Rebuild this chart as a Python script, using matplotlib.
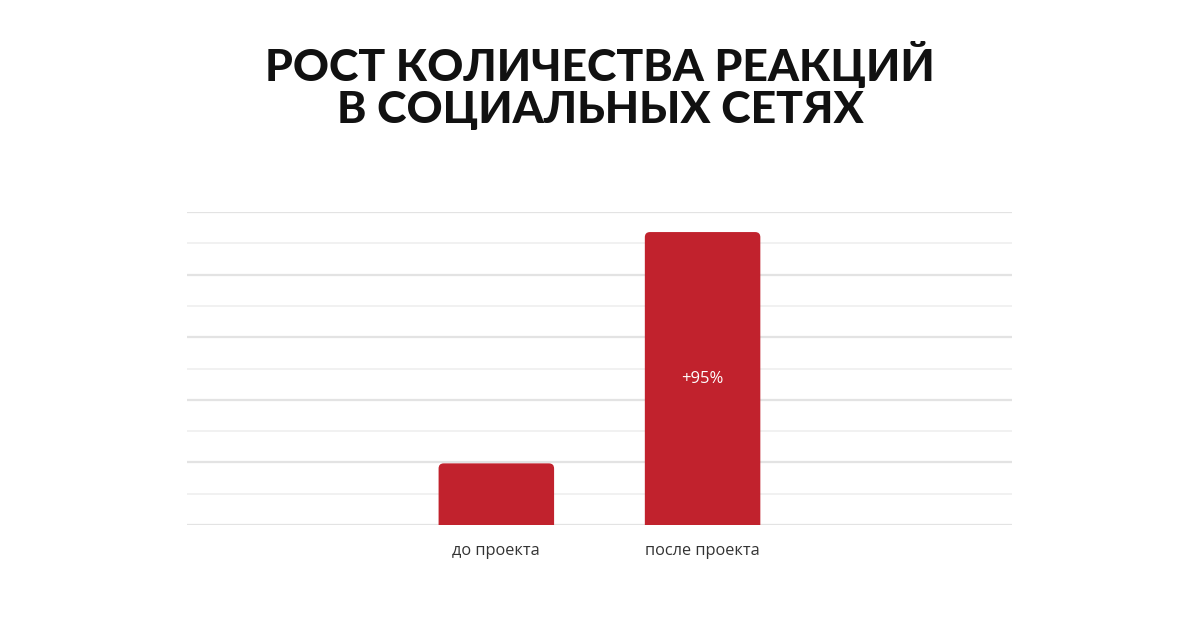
import matplotlib
matplotlib.use("Agg")
import matplotlib.pyplot as plt
from matplotlib.patches import FancyBboxPatch

# Data
categories = ["", "до проекта", "после проекта", ""]
values = [0, 19.7, 93.6, 0]
bar_labels = ["", "", "+95%", ""]
title_lines = ["РОСТ КОЛИЧЕСТВА РЕАКЦИЙ", "В СОЦИАЛЬНЫХ СЕТЯХ"]

BAR_COLOR = "#c1222d"

fig = plt.figure(figsize=(12, 6.26), dpi=100)
fig.patch.set_facecolor("white")
ax = fig.add_axes([0.1558, 0.1613, 0.6875, 0.5])

x = list(range(len(categories)))
bars = ax.bar(x, values, width=0.56, color=BAR_COLOR, zorder=3)

ax.set_xlim(-0.5, len(categories) - 0.5)
ax.set_ylim(0, 100)

# Replace plain bars with top-rounded ones
ax_w_px = 0.6875 * 1200
ax_h_px = 0.5 * 626
data_w = len(categories)
aspect = (100 / ax_h_px) / (data_w / ax_w_px)
for rect in bars:
    h = rect.get_height()
    if h <= 0:
        rect.set_visible(False)
        continue
    x0, w = rect.get_x(), rect.get_width()
    pad_below = 3
    rounded = FancyBboxPatch(
        (x0, -pad_below), w, h + pad_below,
        boxstyle="round,pad=0,rounding_size=0.025",
        mutation_aspect=aspect,
        facecolor=BAR_COLOR, edgecolor="none", zorder=3, clip_on=True,
    )
    ax.add_patch(rounded)
    rect.set_visible(False)

# Value labels inside the bars
for xi, v, lab in zip(x, values, bar_labels):
    if lab:
        ax.text(xi, v * 0.5, lab, ha="center", va="center", color="white",
                fontsize=12, family="Open Sans", zorder=4)

# Grid
ax.set_yticks(range(0, 101, 20))
ax.set_yticks(range(10, 100, 20), minor=True)
ax.grid(axis="y", which="major", color="#e3e3e3", linewidth=1.6, zorder=0)
ax.grid(axis="y", which="minor", color="#eeeeee", linewidth=1.1, zorder=0)
ax.tick_params(axis="y", which="both", left=False, labelleft=False)

ax.set_xticks(x)
ax.set_xticklabels(categories, family="Open Sans", fontsize=11.8, color="#333333")
ax.tick_params(axis="x", length=0, pad=13)

for s in ax.spines.values():
    s.set_visible(False)

# Title
fig.text(0.5, 1 - 65 / 626, title_lines[0], ha="center", va="center",
         fontsize=32, fontweight="black", family="Lato", color="#111111")
fig.text(0.5, 1 - 110 / 626, title_lines[1], ha="center", va="center",
         fontsize=32, fontweight="black", family="Lato", color="#111111")

fig.savefig("out.png", dpi=100, facecolor="white")
